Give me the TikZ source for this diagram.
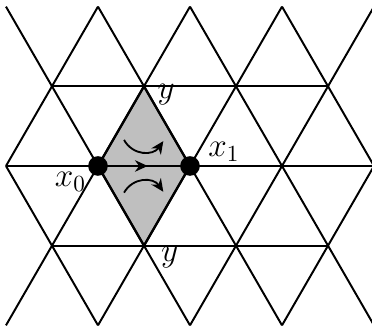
\documentclass[tikz,border=0pt]{standalone}
\usetikzlibrary{arrows.meta}
\begin{document}
\begin{tikzpicture}[x=1.4cm, y=1.4cm]
        % Lattice style definitions
        \tikzset{
            edge/.style={black, line width=0.85pt},
            rhomb/.style={black, line width=1pt, fill=black!25},
            vertex/.style={circle, fill=black, inner sep=0pt, minimum size=8.5pt},
            turn/.style={black, line width=0.8pt, -{Stealth[length=5.5pt, width=5pt]}},
            lab/.style={font=\Large, inner sep=1pt}
        }
        \def\h{0.866}
        \useasboundingbox (-1.065,-1.75) rectangle (2.978,1.804);

        % ==========================================
        % SHADED RHOMBUS
        % ==========================================
        \coordinate (ytop) at (0.5,\h);
        \coordinate (ybot) at (0.5,-\h);
        \coordinate (west) at (0,0);
        \coordinate (east) at (1,0);
        \draw[rhomb] (west) -- (ytop) -- (east) -- (ybot) -- cycle;

        % ==========================================
        % TRIANGULAR LATTICE
        % ==========================================
        % Horizontal rows
        \draw[edge] (-1,0) -- (3,0);
        \draw[edge] (-0.5,\h) -- (2.5,\h);
        \draw[edge] (-0.5,-\h) -- (2.5,-\h);

        % Long diagonals
        \foreach \k in {0,1,2} {
            \draw[edge] (\k-1,-2*\h) -- (\k+1,2*\h);
            \draw[edge] (\k-1,2*\h) -- (\k+1,-2*\h);
        }

        % Short diagonals at the left and right ends
        \draw[edge] (-1,0) -- (0,2*\h);
        \draw[edge] (-1,0) -- (0,-2*\h);
        \draw[edge] (2,2*\h) -- (3,0);
        \draw[edge] (2,-2*\h) -- (3,0);

        % ==========================================
        % ARROWS INSIDE THE RHOMBUS
        % ==========================================
        \draw[turn] (west) -- (0.54,0);
        \draw[turn] (0.283,0.283) .. controls (0.38,0.11) and (0.6,0.11) .. (0.71,0.27);
        \draw[turn] (0.283,-0.29) .. controls (0.38,-0.12) and (0.6,-0.12) .. (0.71,-0.28);

        % ==========================================
        % MARKED VERTICES AND LABELS
        % ==========================================
        \node[vertex] (x0) at (west) {};
        \node[vertex] (x1) at (east) {};
        \node[lab] (x0lab) at (-0.3,-0.17) {$x_0$};
        \node[lab] (x1lab) at (1.37,0.15) {$x_1$};
        \node[lab] (ytoplab) at (0.74,0.78) {$y$};
        \node[lab] (ybotlab) at (0.78,-1.0) {$y$};
\end{tikzpicture}
\end{document}
